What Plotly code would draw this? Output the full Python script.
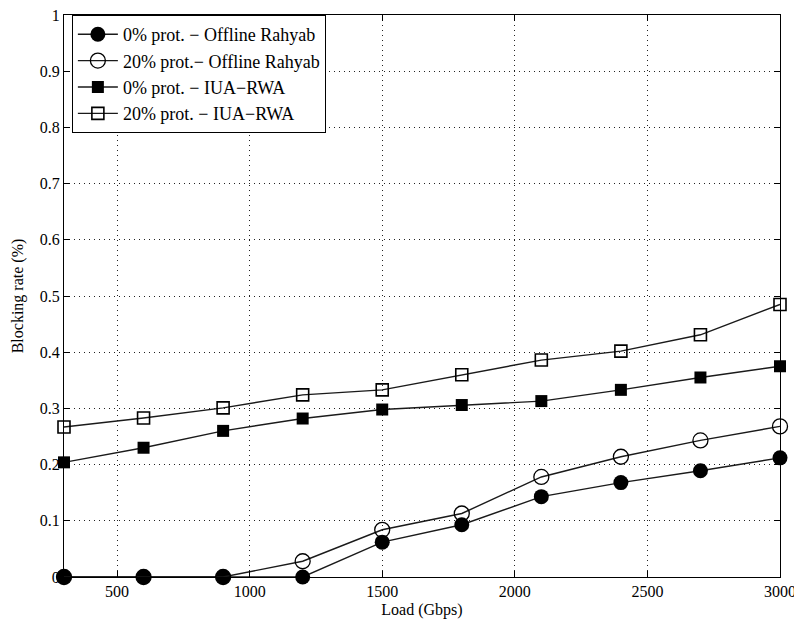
import plotly.graph_objects as go

load = [300, 600, 900, 1200, 1500, 1800, 2100, 2400, 2700, 3000]
off_0 = [0, 0, 0, 0, 0.062, 0.093, 0.143, 0.168, 0.189, 0.212]
off_20 = [0, 0, 0, 0.028, 0.084, 0.113, 0.178, 0.214, 0.243, 0.268]
iua_0 = [0.204, 0.230, 0.260, 0.282, 0.298, 0.306, 0.313, 0.333, 0.355, 0.375]
iua_20 = [0.267, 0.283, 0.301, 0.324, 0.333, 0.360, 0.386, 0.402, 0.431, 0.485]

names = ["0% prot. \u2212 Offline Rahyab", "20% prot.\u2212 Offline Rahyab",
         "0% prot. \u2212 IUA\u2212RWA", "20% prot. \u2212 IUA\u2212RWA"]

x_ticks = [500, 1000, 1500, 2000, 2500, 3000]
y_ticks = [0, 0.1, 0.2, 0.3, 0.4, 0.5, 0.6, 0.7, 0.8, 0.9, 1]
y_labels = ["0", "0.1", "0.2", "0.3", "0.4", "0.5", "0.6", "0.7", "0.8", "0.9", "1"]

fig = go.Figure()
styles = [
    (off_0, dict(symbol="circle", size=15, color="black")),
    (off_20, dict(symbol="circle-open", size=15, color="black", line=dict(width=1.3, color="black"))),
    (iua_0, dict(symbol="square", size=12, color="black")),
    (iua_20, dict(symbol="square-open", size=12, color="black", line=dict(width=1.6, color="black"))),
]
for (vals, mk), nm in zip(styles, names):
    fig.add_trace(go.Scatter(x=load, y=vals, mode="lines+markers", name=nm,
                             line=dict(color="#1a1a1a", width=1.4), marker=mk, cliponaxis=False))

axis_common = dict(showline=True, linecolor="black", linewidth=1, mirror="ticks",
                   ticks="inside", ticklen=6, tickcolor="black",
                   showgrid=True, gridcolor="#222", griddash="1px,4px", gridwidth=1,
                   zeroline=False, automargin=False, ticklabeloverflow="allow",
                   tickfont=dict(family="Liberation Serif", size=16, color="black"))

fig.update_xaxes(range=[300, 3000], tickvals=x_ticks,
                 title=dict(text="Load (Gbps)", font=dict(family="Liberation Serif", size=16, color="black"), standoff=4),
                 **axis_common)
fig.update_yaxes(range=[0, 1], tickvals=y_ticks, ticktext=y_labels,
                 title=dict(text="Blocking rate (%)", font=dict(family="Liberation Serif", size=16, color="black"), standoff=12),
                 **axis_common)

fig.update_layout(
    width=794, height=618,
    margin=dict(l=56, r=22, t=7, b=49),
    plot_bgcolor="white", paper_bgcolor="white",
    font=dict(family="Liberation Serif", color="black"),
    legend=dict(x=0.011, y=1.0, xanchor="left", yanchor="top",
                bgcolor="white", bordercolor="black", borderwidth=1,
                font=dict(family="Liberation Serif", size=18, color="black"),
                tracegroupgap=0, itemwidth=40),
)

fig.write_html("out.html")
